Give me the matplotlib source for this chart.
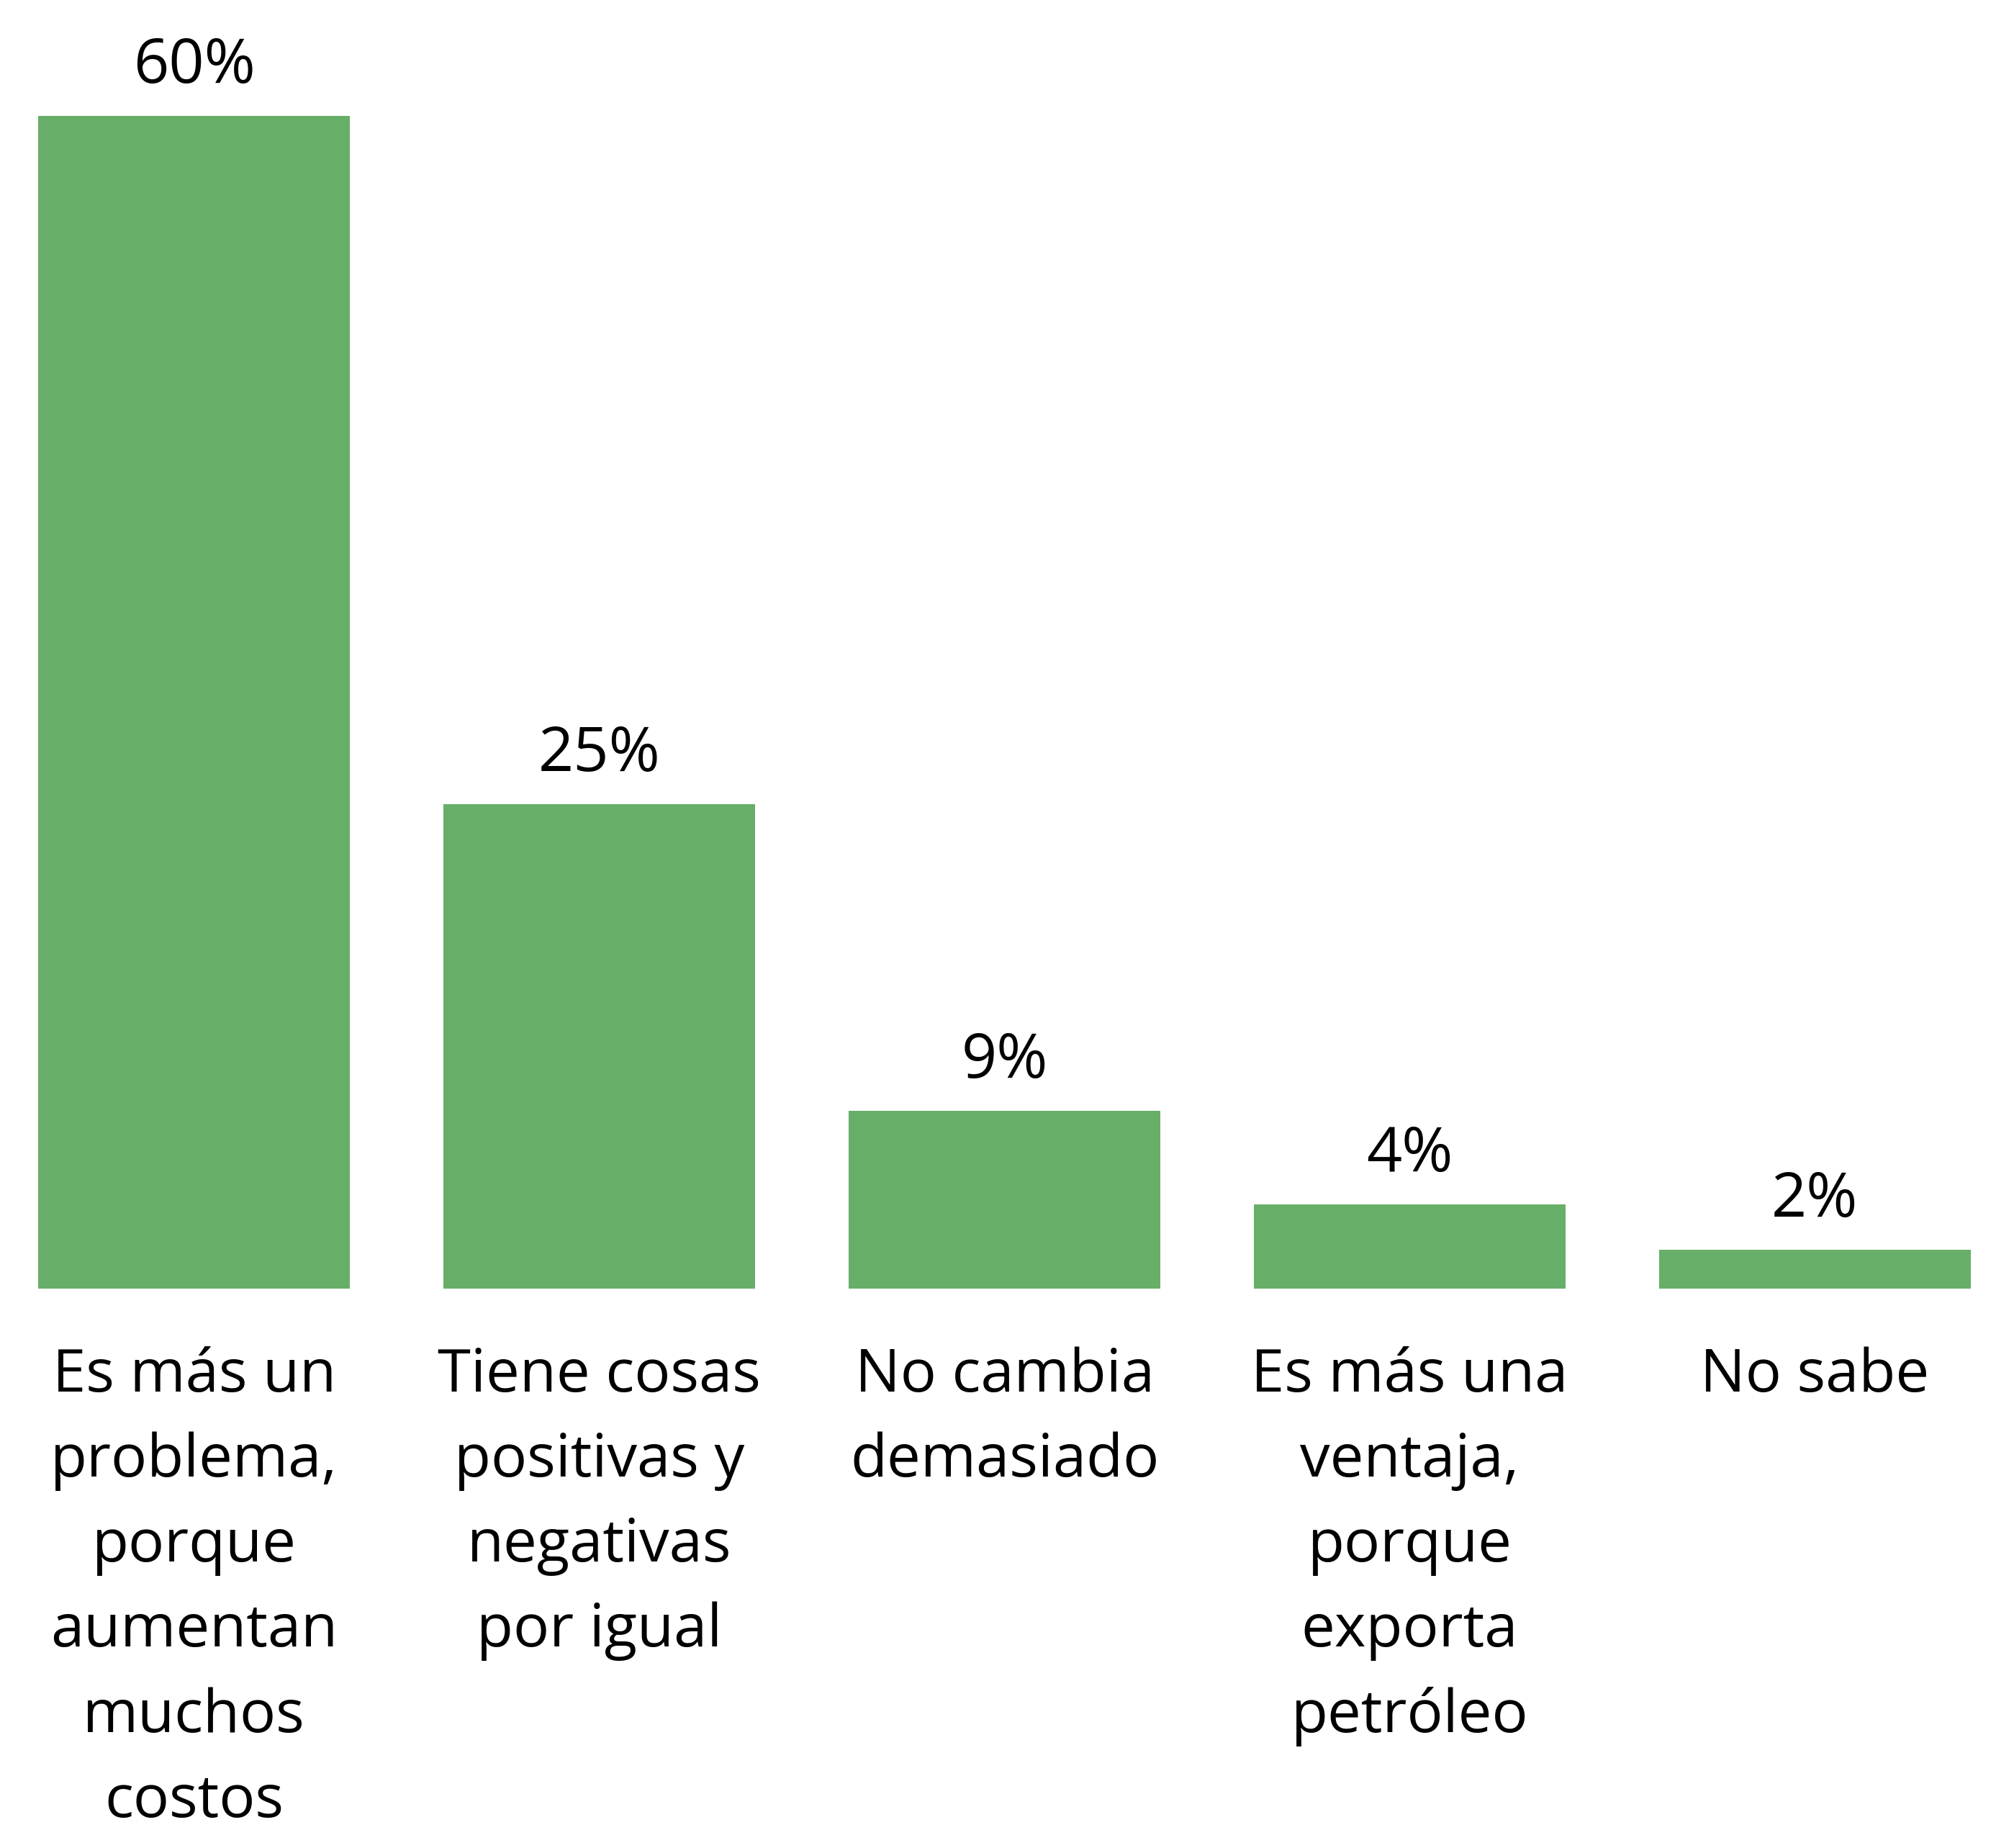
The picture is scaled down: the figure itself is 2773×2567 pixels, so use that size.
import matplotlib.pyplot as plt

# datos de la encuesta
categorias = [
    "Es más un\nproblema,\nporque\naumentan\nmuchos\ncostos",
    "Tiene cosas\npositivas y\nnegativas\npor igual",
    "No cambia\ndemasiado",
    "Es más una\nventaja,\nporque\nexporta\npetróleo",
    "No sabe",
]
valores = [60, 24.8, 9.1, 4.3, 2.0]
etiquetas = ["60%", "25%", "9%", "4%", "2%"]

plt.rcParams["font.family"] = ["Open Sans", "DejaVu Sans"]

fig = plt.figure(figsize=(27.73, 25.67), dpi=100)
ax = fig.add_axes([53 / 2773, 777 / 2567, (2738 - 53) / 2773, (1790 - 161) / 2567])

x = range(len(valores))
barras = ax.bar(x, valores, width=0.77, color="#67AF68")

ax.set_xlim(-0.385, len(valores) - 1 + 0.385)
ax.set_ylim(0, 60)

for b, txt in zip(barras, etiquetas):
    ax.annotate(txt, (b.get_x() + b.get_width() / 2, b.get_height()),
                xytext=(0, 18), textcoords="offset points",
                ha="center", va="bottom", fontsize=62, annotation_clip=False)

ax.set_xticks(list(x))
ax.set_xticklabels(categorias, fontsize=60, linespacing=1.57, va="top")
ax.tick_params(axis="x", length=0, pad=58)
ax.set_yticks([])
for s in ax.spines.values():
    s.set_visible(False)

fig.savefig("out.png", dpi=100)
